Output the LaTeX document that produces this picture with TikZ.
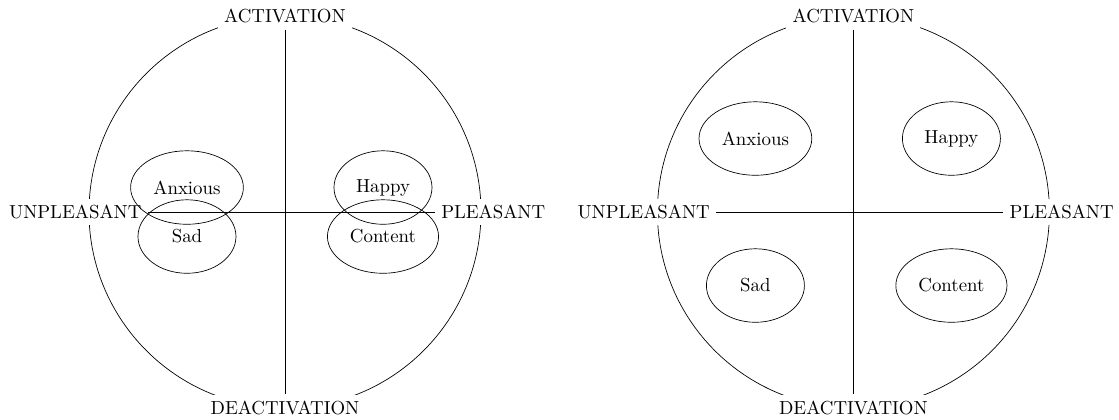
\documentclass[tikz,border=0pt,11pt]{standalone}
\usetikzlibrary{shapes.geometric}

\begin{document}
\begin{tikzpicture}[
    axislabel/.style={fill=white},
    mood/.style={ellipse,draw,minimum width=2cm,minimum height=1.5cm}]
    \useasboundingbox (-5.816,-4.224) rectangle (17.02,4.327);
    % moods bunched on the horizontal axis
    \draw (0,0) circle (4cm);
    \node[axislabel] (act1) at (0,4) {ACTIVATION};
    \node[axislabel] (deact1) at (0,-4) {DEACTIVATION};
    \node[axislabel] (unpl1) at (-4.28,0) {UNPLEASANT};
    \node[axislabel] (pl1) at (4.25,0) {PLEASANT};
    \draw (act1) -- (deact1);
    \draw (unpl1) -- (pl1);
    \node[mood] (anx1) at (-2,0.5) {Anxious};
    \node[mood] (sad1) at (-2,-0.5) {Sad};
    \node[mood] (hap1) at (2,0.5) {Happy};
    \node[mood] (con1) at (2,-0.5) {Content};
    % moods spread over the quadrants
    \begin{scope}[xshift=11.6cm]
    \draw (0,0) circle (4cm);
    \node[axislabel] (act2) at (0,4) {ACTIVATION};
    \node[axislabel] (deact2) at (0,-4) {DEACTIVATION};
    \node[axislabel] (unpl2) at (-4.28,0) {UNPLEASANT};
    \node[axislabel] (pl2) at (4.25,0) {PLEASANT};
    \draw (act2) -- (deact2);
    \draw (unpl2) -- (pl2);
    \node[mood] (anx2) at (-2,1.5) {Anxious};
    \node[mood] (sad2) at (-2,-1.5) {Sad};
    \node[mood] (hap2) at (2,1.5) {Happy};
    \node[mood] (con2) at (2,-1.5) {Content};
    \end{scope}
\end{tikzpicture}
\end{document}
